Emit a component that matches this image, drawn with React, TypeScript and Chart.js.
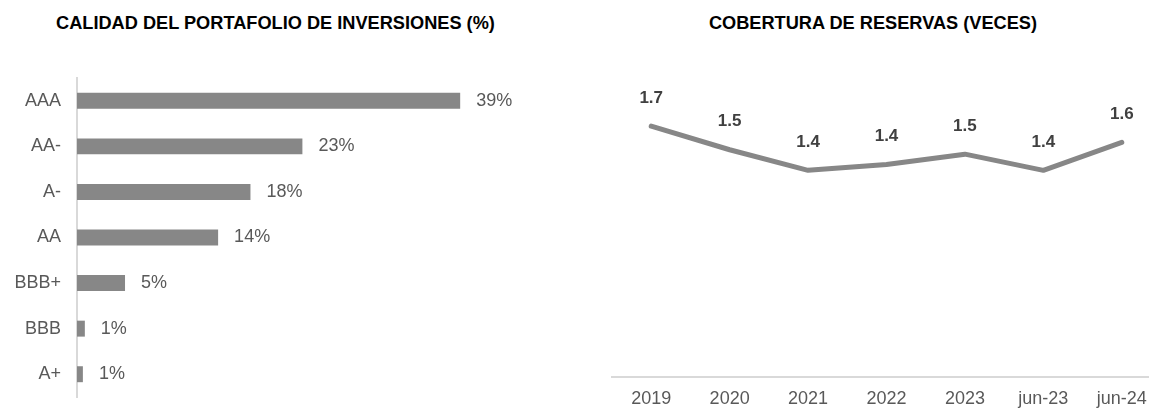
import React, { useEffect, useRef } from "react";
import { Chart, registerables } from "chart.js";

Chart.register(...registerables);

const FONT = '"Liberation Sans", Arial, Helvetica, sans-serif';

// Left chart: portfolio quality (%)
const ratingLabels = ["AAA", "AA-", "A-", "AA", "BBB+", "BBB", "A+"];
const ratingValues = [39.1, 23.0, 17.7, 14.4, 4.9, 0.8, 0.6];
const leftTitle = "CALIDAD DEL PORTAFOLIO DE INVERSIONES (%)";

// Right chart: reserve coverage (times)
const periodLabels = ["2019", "2020", "2021", "2022", "2023", "jun-23", "jun-24"];
const coverageValues = [1.7, 1.54, 1.4, 1.44, 1.51, 1.4, 1.59];
const rightTitle = "COBERTURA DE RESERVAS (VECES)";

const barLabelPlugin = {
  id: "barLabels",
  afterDatasetsDraw(chart: any) {
    const ctx = chart.ctx;
    const meta = chart.getDatasetMeta(0);
    const data = chart.data.datasets[0].data as number[];
    ctx.save();
    ctx.font = `18px ${FONT}`;
    ctx.fillStyle = "#595959";
    ctx.textAlign = "left";
    ctx.textBaseline = "middle";
    meta.data.forEach((el: any, i: number) => {
      ctx.fillText(`${Math.round(data[i])}%`, el.x + 16, el.y);
    });
    ctx.restore();
  },
};

const lineLabelPlugin = {
  id: "lineLabels",
  afterDatasetsDraw(chart: any) {
    const ctx = chart.ctx;
    const meta = chart.getDatasetMeta(0);
    const data = chart.data.datasets[0].data as number[];
    ctx.save();
    ctx.font = `bold 17px ${FONT}`;
    ctx.fillStyle = "#404040";
    ctx.textAlign = "center";
    ctx.textBaseline = "middle";
    meta.data.forEach((el: any, i: number) => {
      ctx.fillText(data[i].toFixed(1), el.x, el.y - 28);
    });
    ctx.restore();
  },
};

function BarChart() {
  const ref = useRef<HTMLCanvasElement>(null);
  useEffect(() => {
    if (!ref.current) return;
    const chart = new Chart(ref.current, {
      type: "bar",
      data: {
        labels: ratingLabels,
        datasets: [
          {
            data: ratingValues,
            backgroundColor: "#878787",
            borderWidth: 0,
            barPercentage: 0.35,
            categoryPercentage: 1,
          },
        ],
      },
      options: {
        indexAxis: "y",
        animation: false,
        responsive: true,
        maintainAspectRatio: false,
        layout: { padding: { top: 78, bottom: 11, left: 0, right: 56 } },
        plugins: { legend: { display: false }, tooltip: { enabled: false } },
        scales: {
          x: { display: false, min: 0, max: 45 },
          y: {
            afterFit: (s: any) => {
              s.width = 77;
              s.paddingTop = 0;
              s.paddingBottom = 0;
            },
            grid: { display: false, drawTicks: false },
            border: { display: true, color: "#d9d9d9", width: 2 },
            ticks: { color: "#595959", font: { family: FONT, size: 18 }, padding: 16 },
          },
        },
      },
      plugins: [barLabelPlugin],
    } as any);
    return () => chart.destroy();
  }, []);
  return <canvas ref={ref} />;
}

function LineChart() {
  const ref = useRef<HTMLCanvasElement>(null);
  useEffect(() => {
    if (!ref.current) return;
    const chart = new Chart(ref.current, {
      type: "line",
      data: {
        labels: periodLabels,
        datasets: [
          {
            data: coverageValues,
            borderColor: "#878787",
            borderWidth: 5,
            pointRadius: 0,
            tension: 0,
            borderCapStyle: "round",
            borderJoinStyle: "round",
            fill: false,
          },
        ],
      },
      options: {
        animation: false,
        responsive: true,
        maintainAspectRatio: false,
        layout: { padding: { top: 82, bottom: 0, left: 22, right: 9 } },
        plugins: { legend: { display: false }, tooltip: { enabled: false } },
        scales: {
          x: {
            offset: true,
            afterFit: (s: any) => {
              s.height = 31.5;
            },
            grid: { display: false, drawTicks: false },
            border: { display: true, color: "#d9d9d9", width: 2 },
            ticks: { color: "#595959", font: { family: FONT, size: 18 }, padding: 12, maxRotation: 0, autoSkip: false },
          },
          y: { display: false, min: 0, max: 2 },
        },
      },
      plugins: [lineLabelPlugin],
    } as any);
    return () => chart.destroy();
  }, []);
  return <canvas ref={ref} />;
}

const titleStyle: React.CSSProperties = {
  position: "absolute",
  top: 14,
  fontFamily: FONT,
  fontWeight: "bold",
  fontSize: 18.2,
  lineHeight: "18px",
  color: "#000",
  whiteSpace: "nowrap",
};

export default function App() {
  return (
    <div
      style={{
        position: "fixed",
        left: 0,
        top: 0,
        width: 1149,
        height: 408,
        overflow: "hidden",
        background: "#fff",
      }}
    >
      <div style={{ ...titleStyle, left: 56 }}>{leftTitle}</div>
      <div style={{ ...titleStyle, right: 112 }}>{rightTitle}</div>
      <div style={{ position: "absolute", left: 0, top: 0, width: 574, height: 408 }}>
        <BarChart />
      </div>
      <div style={{ position: "absolute", left: 590, top: 0, width: 580, height: 408 }}>
        <LineChart />
      </div>
    </div>
  );
}
